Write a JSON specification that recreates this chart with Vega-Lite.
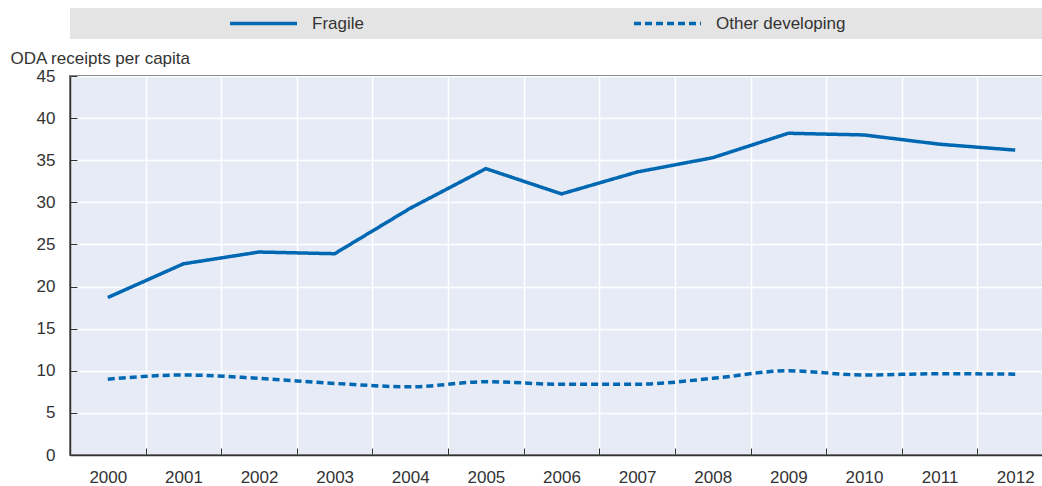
{
  "$schema": "https://vega.github.io/schema/vega-lite/v6.json",
  "width": 983,
  "height": 379,
  "autosize": {"type": "none"},
  "padding": {"left": 70, "top": 76, "right": -11, "bottom": 31},
  "background": "white",
  "config": {
    "font": "Liberation Sans, Arial, sans-serif",
    "view": {"fill": "#e7ebf6", "stroke": "#333333", "strokeWidth": 1.5},
    "axis": {
      "labelFontSize": 17,
      "labelColor": "#333333",
      "tickColor": "#333333",
      "tickSize": -7,
      "domainColor": "#333333",
      "domainWidth": 1.5,
      "gridColor": "#ffffff",
      "gridWidth": 1.5,
      "gridOpacity": 1
    }
  },
  "data": {
    "values": [
      {"year": "2000", "series": "Fragile", "value": 18.7},
      {"year": "2001", "series": "Fragile", "value": 22.7},
      {"year": "2002", "series": "Fragile", "value": 24.1},
      {"year": "2003", "series": "Fragile", "value": 23.9},
      {"year": "2004", "series": "Fragile", "value": 29.3},
      {"year": "2005", "series": "Fragile", "value": 34.0},
      {"year": "2006", "series": "Fragile", "value": 31.0},
      {"year": "2007", "series": "Fragile", "value": 33.6},
      {"year": "2008", "series": "Fragile", "value": 35.3},
      {"year": "2009", "series": "Fragile", "value": 38.2},
      {"year": "2010", "series": "Fragile", "value": 38.0},
      {"year": "2011", "series": "Fragile", "value": 36.9},
      {"year": "2012", "series": "Fragile", "value": 36.2},
      {"year": "2000", "series": "Other developing", "value": 9.0},
      {"year": "2001", "series": "Other developing", "value": 9.5},
      {"year": "2002", "series": "Other developing", "value": 9.1},
      {"year": "2003", "series": "Other developing", "value": 8.5},
      {"year": "2004", "series": "Other developing", "value": 8.1},
      {"year": "2005", "series": "Other developing", "value": 8.7},
      {"year": "2006", "series": "Other developing", "value": 8.4},
      {"year": "2007", "series": "Other developing", "value": 8.4},
      {"year": "2008", "series": "Other developing", "value": 9.1},
      {"year": "2009", "series": "Other developing", "value": 10.0},
      {"year": "2010", "series": "Other developing", "value": 9.5},
      {"year": "2011", "series": "Other developing", "value": 9.65},
      {"year": "2012", "series": "Other developing", "value": 9.6}
    ]
  },
  "encoding": {
    "x": {
      "field": "year",
      "type": "ordinal",
      "bandPosition": 0.5,
      "scale": {"type": "band", "paddingInner": 0, "paddingOuter": 0},
      "axis": {
        "title": null,
        "labelAngle": 0,
        "tickBand": "extent",
        "grid": true,
        "labelPadding": 21
      }
    },
    "y": {
      "field": "value",
      "type": "quantitative",
      "scale": {"domain": [0, 45], "nice": false},
      "axis": {
        "values": [0, 5, 10, 15, 20, 25, 30, 35, 40, 45],
        "grid": true,
        "labelPadding": 22,
        "title": "ODA receipts per capita",
        "titleAngle": 0,
        "titleAlign": "left",
        "titleBaseline": "alphabetic",
        "titleX": -60,
        "titleY": -13,
        "titleFontSize": 17,
        "titleFontWeight": "normal",
        "titleColor": "#333333"
      }
    },
    "color": {
      "field": "series",
      "type": "nominal",
      "scale": {"domain": ["Fragile", "Other developing"], "range": ["#0068b3", "#0068b3"]},
      "legend": {
        "title": " ",
        "titleOrient": "right",
        "titlePadding": 300,
        "orient": "none",
        "legendX": 0,
        "legendY": -68,
        "direction": "horizontal",
        "fillColor": "#e4e4e4",
        "padding": 7,
        "symbolType": "stroke",
        "symbolSize": 4489,
        "symbolStrokeWidth": 3.5,
        "symbolOffset": 151,
        "labelOffset": 13,
        "clipHeight": 17,
        "columnPadding": 117,
        "labelFontSize": 17,
        "labelColor": "#333333"
      }
    },
    "strokeDash": {
      "field": "series",
      "type": "nominal",
      "scale": {"domain": ["Fragile", "Other developing"], "range": [[1, 0], [7, 4]]},
      "legend": {
        "title": " ",
        "titleOrient": "right",
        "titlePadding": 300,
        "orient": "none",
        "legendX": 0,
        "legendY": -68,
        "direction": "horizontal",
        "fillColor": "#e4e4e4",
        "padding": 7,
        "symbolType": "stroke",
        "symbolSize": 4489,
        "symbolStrokeWidth": 3.5,
        "symbolOffset": 151,
        "labelOffset": 13,
        "clipHeight": 17,
        "columnPadding": 117,
        "labelFontSize": 17,
        "labelColor": "#333333"
      }
    }
  },
  "layer": [
    {
      "transform": [{"filter": "datum.series === 'Fragile'"}],
      "mark": {"type": "line", "strokeWidth": 3.5}
    },
    {
      "transform": [{"filter": "datum.series !== 'Fragile'"}],
      "mark": {"type": "line", "strokeWidth": 3.5, "interpolate": "monotone"}
    }
  ]
}
